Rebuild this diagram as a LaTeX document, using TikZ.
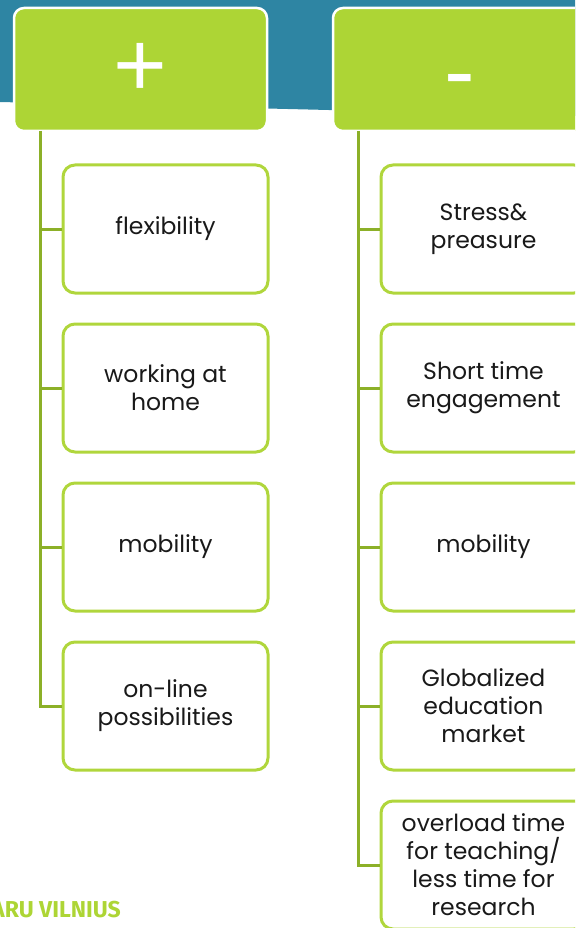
\documentclass[tikz,border=0pt]{standalone}
\usepackage{fontspec}
\setmainfont{Poppins}
\newfontfamily\footfont{Fira Sans}
\newfontfamily\signfont{Liberation Sans}
\definecolor{bgblue}{RGB}{46,133,163}
\definecolor{lime}{RGB}{173,213,53}
\definecolor{limeline}{RGB}{176,214,60}
\definecolor{olive}{RGB}{140,176,40}
\definecolor{ink}{RGB}{25,25,25}
\begin{document}
\begin{tikzpicture}[x=1pt,y=-1pt,
  header/.style={fill=lime,draw=white,line width=2.5pt,rounded corners=10pt},
  child/.style={draw=limeline,line width=3pt,fill=white,rounded corners=12pt,
     minimum width=205pt,minimum height=128pt,align=center,text=ink,
     font=\fontsize{23.5}{28}\selectfont,inner sep=0pt},
  spine/.style={draw=olive,line width=3pt},
  sign/.style={text=white,font=\signfont\fontsize{92}{92}\selectfont,inner sep=0pt}]
\useasboundingbox (0,0) rectangle (575,928);
\clip (0,0) rectangle (575,928);
\fill[bgblue] (0,0) -- (575,0) -- (575,116) -- (0,102) -- cycle;
% headers
\draw[header] (14,8) rectangle (267,131);
\draw[header] (333,8) rectangle (640,131);
\node[sign,anchor=base] (plus) at (140,97) {+};
\node[sign,anchor=base] (minus) at (459.5,103) {-};
\coordinate (sL) at (40,131);
\coordinate (sR) at (358,131);
% left column
\node[child] (l1) at (165.5,229) {flexibility};
\node[child] (l2) at (165.5,388) {working at\\home};
\node[child] (l3) at (165.5,547) {mobility};
\node[child] (l4) at (165.5,706) {on-line\\possibilities};
% right column
\node[child] (r1) at (483.5,229) {Stress\&\\preasure};
\node[child] (r2) at (483.5,388) {Short time\\engagement};
\node[child] (r3) at (483.5,547) {mobility};
\node[child] (r4) at (483.5,706) {Globalized\\education\\market};
\node[child] (r5) at (483.5,865) {overload time\\for teaching/\\less time for\\research};
% connectors
\draw[spine] (sL) |- (l4.west);
\draw[spine] (sL |- l1.west) -- (l1.west);
\draw[spine] (sL |- l2.west) -- (l2.west);
\draw[spine] (sL |- l3.west) -- (l3.west);
\draw[spine] (sR) |- (r5.west);
\draw[spine] (sR |- r1.west) -- (r1.west);
\draw[spine] (sR |- r2.west) -- (r2.west);
\draw[spine] (sR |- r3.west) -- (r3.west);
\draw[spine] (sR |- r4.west) -- (r4.west);
% footer
\node[anchor=base east,text=lime,font=\footfont\bfseries\fontsize{23}{23}\selectfont,inner sep=0pt] (foot) at (121,917) {ARU VILNIUS};
\end{tikzpicture}
\end{document}
